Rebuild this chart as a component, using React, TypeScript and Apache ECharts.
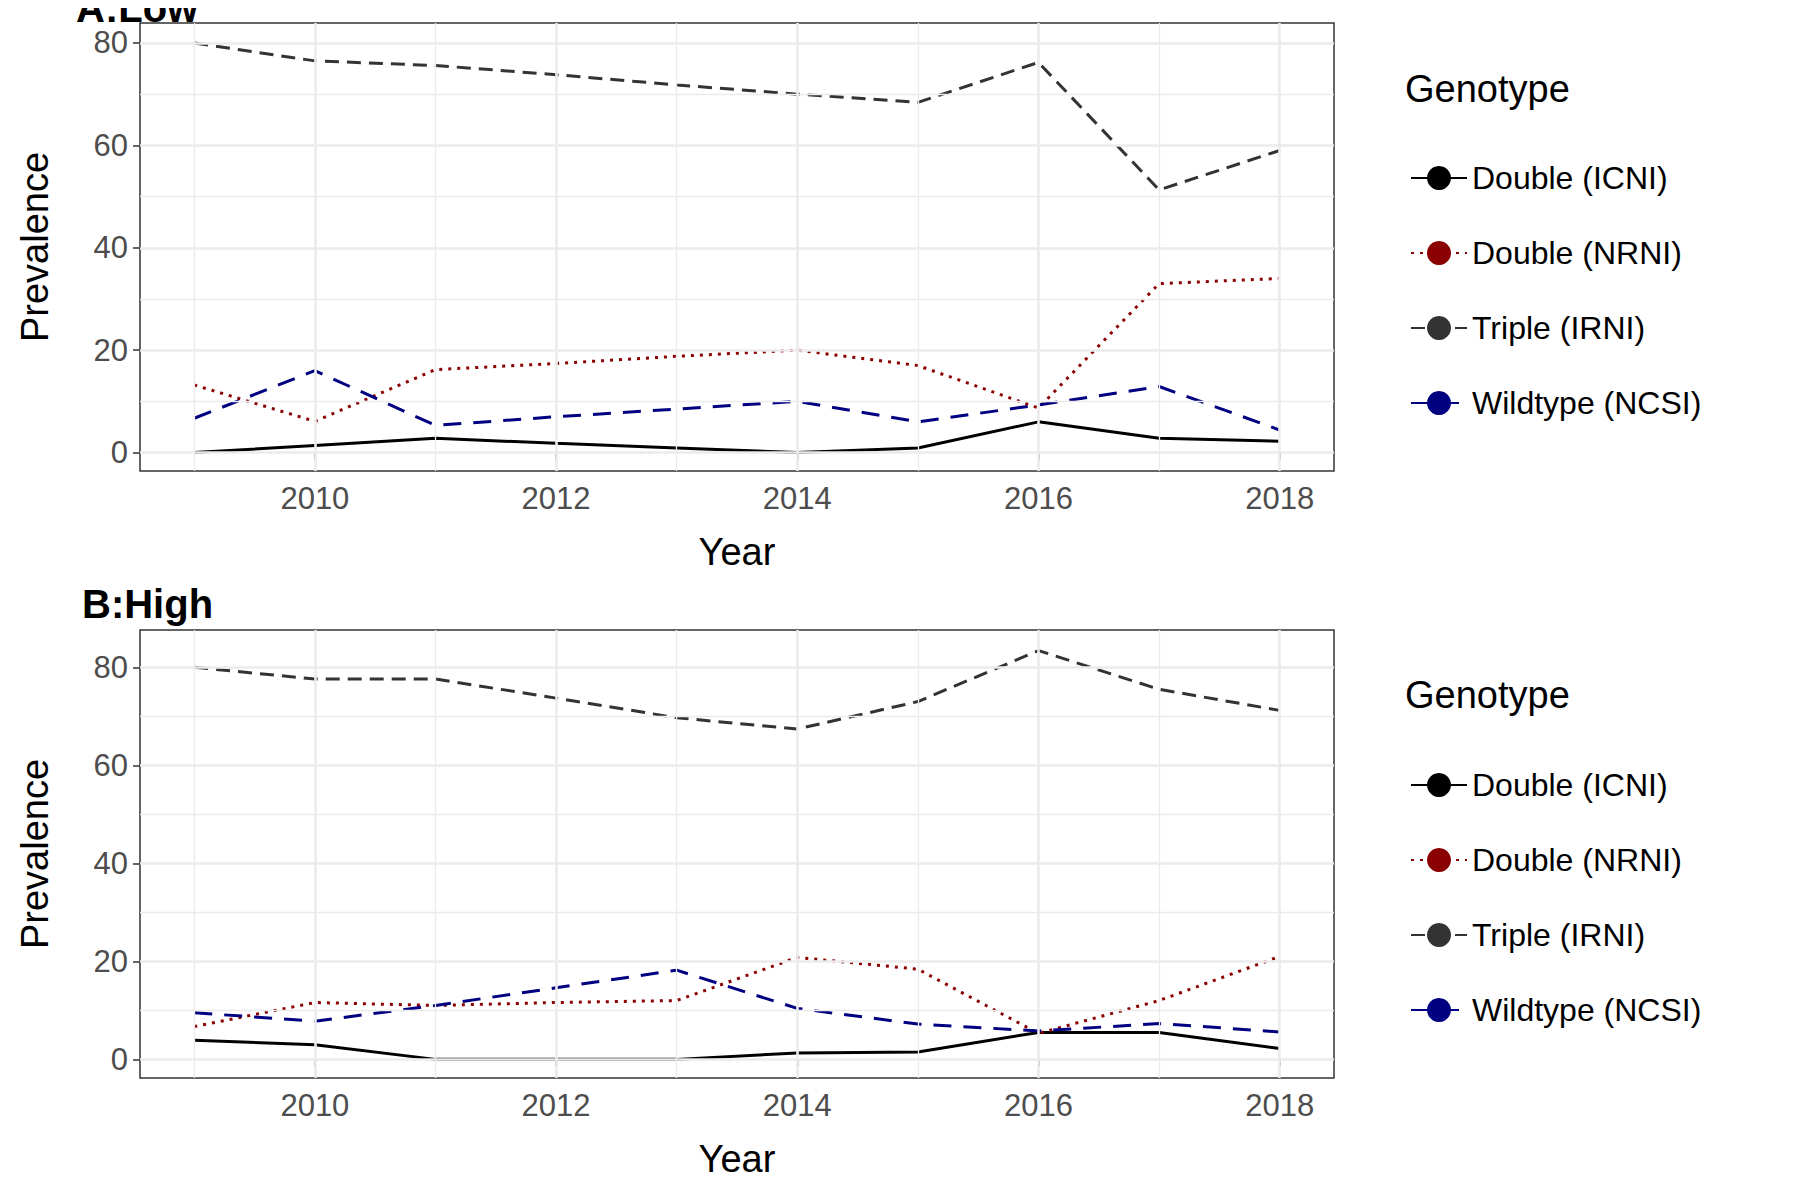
import React, { useEffect, useRef } from "react";
import * as echarts from "echarts";

const years = [2009, 2010, 2011, 2012, 2013, 2014, 2015, 2016, 2017, 2018];
const genotypes = ["Double (ICNI)", "Double (NRNI)", "Triple (IRNI)", "Wildtype (NCSI)"];

const lowICNI = [0, 1.4, 2.8, 1.8, 0.9, 0, 0.9, 6, 2.8, 2.2];
const lowNRNI = [13.2, 6.1, 16.2, 17.4, 18.8, 20, 17, 8.7, 33, 34];
const lowIRNI = [80, 76.5, 75.6, 73.8, 71.8, 70, 68.4, 76.2, 51.3, 59];
const lowNCSI = [6.7, 16, 5.3, 7, 8.5, 10, 6, 9.3, 12.9, 4.4];

const highICNI = [3.9, 3, 0, 0, 0, 1.3, 1.5, 5.5, 5.5, 2.2];
const highNRNI = [6.7, 11.6, 11, 11.6, 12, 20.8, 18.4, 5.3, 12, 21];
const highIRNI = [80, 77.6, 77.6, 73.7, 69.7, 67.4, 73, 83.4, 75.5, 71.2];
const highNCSI = [9.5, 7.8, 11, 14.6, 18.2, 10.4, 7.2, 5.8, 7.3, 5.6];

const xMajor = [2010, 2012, 2014, 2016, 2018];
const xMinor = [2009, 2011, 2013, 2015, 2017];
const yMajor = [0, 20, 40, 60, 80];
const yMinor = [10, 30, 50, 70];

const styles = [
  { color: "#000000", type: "solid" as any },
  { color: "#8b0000", type: [3, 6] as any },
  { color: "#333333", type: [14, 8] as any },
  { color: "#000080", type: [18, 12] as any },
];

const FONT = "Liberation Sans";

export default function App() {
  const ref = useRef<HTMLDivElement>(null);
  useEffect(() => {
    if (!ref.current) return;
    const chart = echarts.init(ref.current, undefined, { renderer: "svg" });
    const panels = [
      { data: [lowICNI, lowNRNI, lowIRNI, lowNCSI], top: 23, min: -3.6, max: 83.9 },
      { data: [highICNI, highNRNI, highIRNI, highNCSI], top: 630, min: -3.8, max: 87.6 },
    ];
    const series: any[] = [];
    panels.forEach((p, i) => {
      const gl = (vals: number[], axis: "x" | "y", w: number) =>
        vals.map((v) => ({ [axis === "x" ? "xAxis" : "yAxis"]: v, lineStyle: { color: "#ebebeb", width: w, type: "solid" } }));
      series.push({
        type: "line",
        xAxisIndex: i,
        yAxisIndex: i,
        data: [],
        silent: true,
        z: 0,
        markLine: {
          symbol: "none",
          silent: true,
          label: { show: false },
          animation: false,
          data: [...gl(xMinor, "x", 1.3), ...gl(yMinor, "y", 1.3), ...gl(xMajor, "x", 2.6), ...gl(yMajor, "y", 2.6)],
        },
      });
      p.data.forEach((vals, k) => {
        series.push({
          name: genotypes[k],
          type: "line",
          xAxisIndex: i,
          yAxisIndex: i,
          symbol: "none",
          z: 3,
          data: years.map((y, j) => [y, vals[j]]),
          lineStyle: { color: styles[k].color, type: styles[k].type, width: 3 },
          itemStyle: { color: styles[k].color },
        });
      });
    });
    const axisText = { fontFamily: FONT, fontSize: 31, color: "#4d4d4d" };
    const option: any = {
      animation: false,
      textStyle: { fontFamily: FONT },
      grid: panels.map((p) => ({
        left: 140,
        width: 1194,
        top: p.top,
        height: 448,
        show: true,
        borderColor: "#333333",
        borderWidth: 1.5,
        backgroundColor: "transparent",
      })),
      xAxis: panels.map((_, i) => ({
        type: "value",
        gridIndex: i,
        min: 2008.55,
        max: 2018.45,
        name: "Year",
        nameLocation: "middle",
        nameGap: 62,
        nameTextStyle: { fontFamily: FONT, fontSize: 38, color: "#000" },
        axisLine: { show: false },
        splitLine: { show: false },
        axisTick: { show: true, length: 7, lineStyle: { color: "#333", width: 1.5 }, customValues: xMajor },
        axisLabel: { ...axisText, margin: 12, customValues: xMajor, formatter: (v: number) => String(v) },
      })),
      yAxis: panels.map((p, i) => ({
        type: "value",
        gridIndex: i,
        min: p.min,
        max: p.max,
        name: "Prevalence",
        nameLocation: "middle",
        nameGap: 86,
        nameTextStyle: { fontFamily: FONT, fontSize: 38, color: "#000" },
        axisLine: { show: false },
        splitLine: { show: false },
        axisTick: { show: true, length: 7, lineStyle: { color: "#333", width: 1.5 }, customValues: yMajor },
        axisLabel: { ...axisText, margin: 12, customValues: yMajor, formatter: (v: number) => String(v) },
      })),
      legend: panels.map((p) => ({
        data: genotypes,
        orient: "vertical",
        left: 1405,
        top: p.top + 134,
        itemWidth: 56,
        itemHeight: 30,
        itemGap: 43,
        selectedMode: false,
        textStyle: { fontFamily: FONT, fontSize: 32, color: "#000" },
      })),
      graphic: [
        { type: "text", left: 1405, top: 70, style: { text: "Genotype", font: `38px '${FONT}'`, fill: "#000" } },
        { type: "text", left: 1405, top: 676, style: { text: "Genotype", font: `38px '${FONT}'`, fill: "#000" } },
        { type: "text", left: 76, top: -12, style: { text: "A:Low", font: `bold 40px '${FONT}'`, fill: "#000" } },
        { type: "text", left: 82, top: 584, style: { text: "B:High", font: `bold 40px '${FONT}'`, fill: "#000" } },
      ],
      series,
    };
    chart.setOption(option);
    return () => chart.dispose();
  }, []);
  return <div ref={ref} style={{ width: 1800, height: 1200, margin: -8 }} />;
}
